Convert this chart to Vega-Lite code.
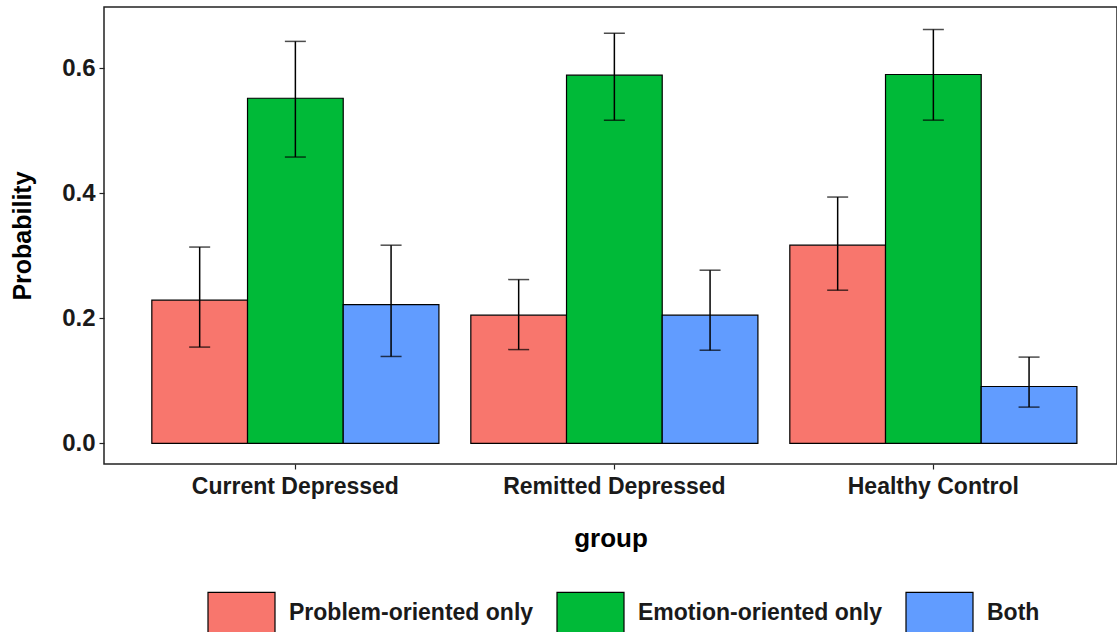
{
  "$schema": "https://vega.github.io/schema/vega-lite/v6.json",
  "autosize": {"type": "none"},
  "padding": {"left": 104, "top": 7, "right": 0, "bottom": 168},
  "width": 1013,
  "height": 457,
  "background": "white",
  "config": {
    "font": "Liberation Sans",
    "view": {"stroke": "#222", "strokeWidth": 1.5},
    "axis": {"domain": false, "grid": false, "tickColor": "#222", "tickSize": 5, "tickWidth": 1.2, "labelFont": "Liberation Sans", "labelFontWeight": "bold", "labelColor": "#1a1a1a", "labelLimit": 0, "titleFont": "Liberation Sans", "titleFontWeight": "bold", "titleColor": "black"}
  },
  "data": {
    "values": [
      {"group": "Current Depressed", "type": "Problem-oriented only", "prob": 0.229, "lo": 0.154, "hi": 0.314},
      {"group": "Current Depressed", "type": "Emotion-oriented only", "prob": 0.552, "lo": 0.458, "hi": 0.643},
      {"group": "Current Depressed", "type": "Both", "prob": 0.222, "lo": 0.139, "hi": 0.317},
      {"group": "Remitted Depressed", "type": "Problem-oriented only", "prob": 0.205, "lo": 0.150, "hi": 0.262},
      {"group": "Remitted Depressed", "type": "Emotion-oriented only", "prob": 0.589, "lo": 0.517, "hi": 0.656},
      {"group": "Remitted Depressed", "type": "Both", "prob": 0.205, "lo": 0.149, "hi": 0.277},
      {"group": "Healthy Control", "type": "Problem-oriented only", "prob": 0.317, "lo": 0.245, "hi": 0.394},
      {"group": "Healthy Control", "type": "Emotion-oriented only", "prob": 0.590, "lo": 0.517, "hi": 0.662},
      {"group": "Healthy Control", "type": "Both", "prob": 0.091, "lo": 0.058, "hi": 0.138}
    ]
  },
  "encoding": {
    "x": {
      "field": "group", "type": "nominal",
      "sort": ["Current Depressed", "Remitted Depressed", "Healthy Control"],
      "scale": {"paddingInner": 0.1, "paddingOuter": 0.1378, "align": 0.544},
      "axis": {"title": "group", "labelAngle": 0, "labelFontSize": 23, "labelPadding": 6, "titleFontSize": 26, "titlePadding": 27}
    },
    "xOffset": {
      "field": "type", "type": "nominal",
      "sort": ["Problem-oriented only", "Emotion-oriented only", "Both"],
      "scale": {"paddingInner": 0, "paddingOuter": 0}
    }
  },
  "layer": [
    {
      "mark": {"type": "bar", "stroke": "black", "strokeWidth": 1.2},
      "encoding": {
        "y": {
          "field": "prob", "type": "quantitative",
          "scale": {"domain": [-0.033, 0.698], "nice": false, "zero": false},
          "axis": {"title": "Probability", "values": [0, 0.2, 0.4, 0.6], "format": ".1f", "labelFontSize": 24, "labelPadding": 4, "titleFontSize": 25, "titlePadding": 26}
        },
        "fill": {
          "field": "type", "type": "nominal",
          "sort": ["Problem-oriented only", "Emotion-oriented only", "Both"],
          "scale": {"domain": ["Problem-oriented only", "Emotion-oriented only", "Both"], "range": ["#F8766D", "#00BA38", "#619CFF"]},
          "legend": {
            "orient": "none", "legendX": 103, "legendY": 571, "direction": "horizontal",
            "title": null,
            "symbolType": "M-1,-0.6H1V0.6H-1Z", "symbolSize": 4489,
            "symbolStrokeColor": "black", "symbolStrokeWidth": 1.2, "symbolOpacity": 1,
            "labelFont": "Liberation Sans", "labelFontSize": 23, "labelFontWeight": "bold", "labelColor": "#1a1a1a", "labelLimit": 400,
            "labelOffset": 13, "columnPadding": 20, "padding": 0
          }
        }
      }
    },
    {
      "mark": {"type": "rule", "color": "black", "strokeWidth": 1.5},
      "encoding": {
        "y": {"field": "lo", "type": "quantitative"},
        "y2": {"field": "hi"}
      }
    },
    {
      "mark": {"type": "tick", "color": "black", "size": 21, "thickness": 1.5},
      "encoding": {"y": {"field": "lo", "type": "quantitative"}}
    },
    {
      "mark": {"type": "tick", "color": "black", "size": 21, "thickness": 1.5},
      "encoding": {"y": {"field": "hi", "type": "quantitative"}}
    }
  ]
}
